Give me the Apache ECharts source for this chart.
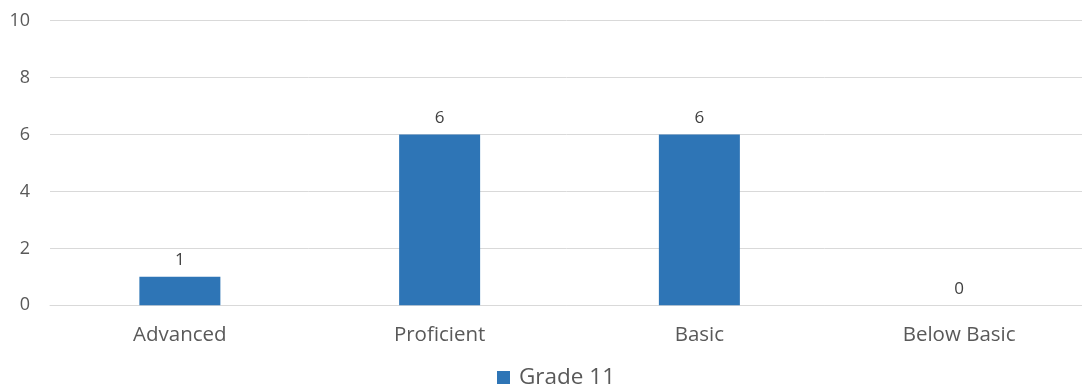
<!DOCTYPE html>
<html>
<head>
<meta charset="utf-8">
<script src="https://cdn.jsdelivr.net/npm/echarts@6/dist/echarts.min.js"></script>
<style>
    html, body { margin: 0; padding: 0; background: #fff; }
    #chart { width: 1082px; height: 390px; }
</style>
</head>
<body>
<div id="chart"></div>
<script>
    var categories = ['Advanced', 'Proficient', 'Basic', 'Below Basic'];
    var grade11 = [1, 6, 6, 0];
    var seriesName = 'Grade 11';

    var myChart = echarts.init(document.getElementById('chart'));
    var option = {
        backgroundColor: '#FFF',
        textStyle: { fontFamily: 'Open Sans' },
        grid: {
            left: 50,
            top: 20.7,
            width: 1039,
            height: 284.6,
            containLabel: false,
            outerBoundsMode: 'none'
        },
        legend: {
            bottom: 1,
            left: 497,
            padding: 0,
            itemWidth: 13,
            itemHeight: 13,
            itemGap: 6,
            icon: 'rect',
            textStyle: { color: '#595959', fontSize: 22.5, fontFamily: 'Open Sans', padding: [0, 0, 0, 4] },
            data: [seriesName]
        },
        xAxis: {
            type: 'category',
            data: categories,
            axisLine: { lineStyle: { color: '#d9d9d9' } },
            axisTick: { show: false },
            axisLabel: { color: '#595959', fontSize: 20.5, margin: 19 }
        },
        yAxis: {
            type: 'value',
            min: 0,
            max: 10,
            interval: 2,
            axisLine: { show: false },
            axisTick: { show: false },
            splitLine: { lineStyle: { color: '#d9d9d9' } },
            axisLabel: { color: '#595959', fontSize: 18, margin: 20 }
        },
        series: [
            {
                name: seriesName,
                type: 'bar',
                data: grade11,
                barWidth: 81,
                itemStyle: { color: '#2E75B6' },
                label: {
                    show: true,
                    position: 'top',
                    distance: 8,
                    color: '#404040',
                    fontSize: 17
                }
            }
        ]
    };
    myChart.setOption(option);
</script>
</body>
</html>
